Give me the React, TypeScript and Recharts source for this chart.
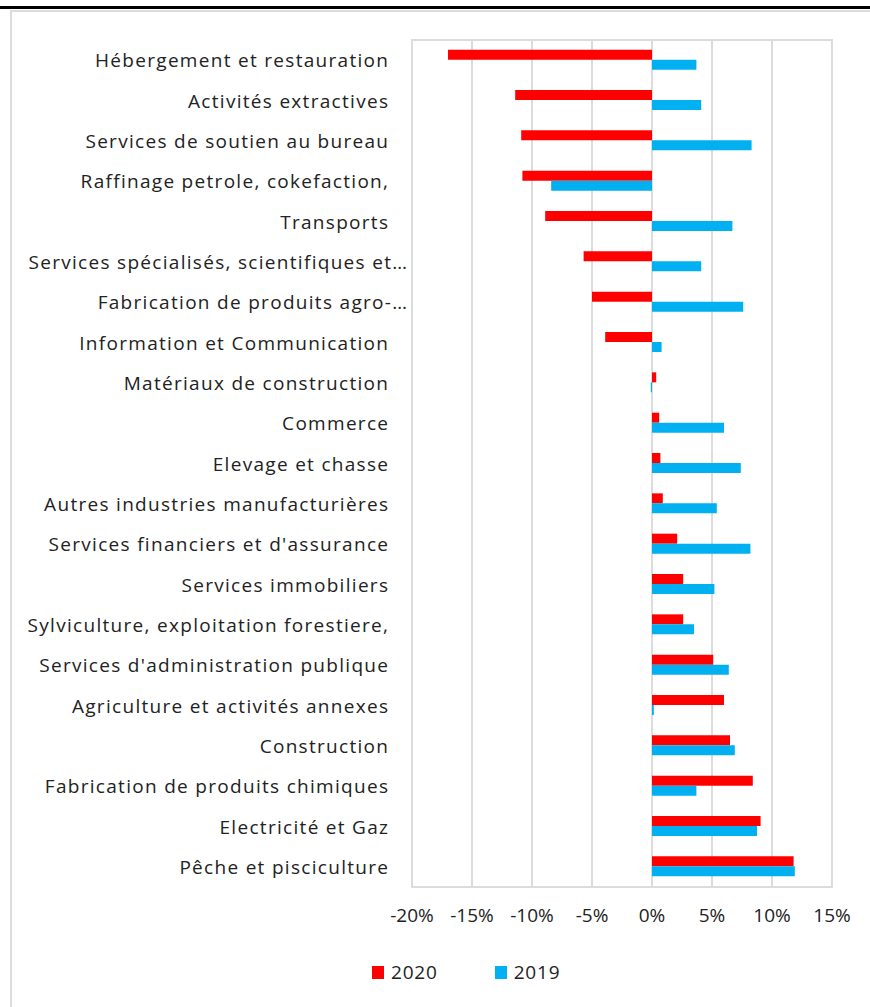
import React from 'react';
import { Bar, BarChart, CartesianGrid, Legend, ReferenceArea, XAxis, YAxis } from 'recharts';

const categories = [
  'Hébergement et restauration',
  'Activités extractives',
  'Services de soutien au bureau',
  'Raffinage petrole, cokefaction,',
  'Transports',
  'Services spécialisés, scientifiques et…',
  'Fabrication de produits agro-…',
  'Information et Communication',
  'Matériaux de construction',
  'Commerce',
  'Elevage et chasse',
  'Autres industries manufacturières',
  'Services financiers et d\'assurance',
  'Services immobiliers',
  'Sylviculture, exploitation forestiere,',
  'Services d\'administration publique',
  'Agriculture et activités annexes',
  'Construction',
  'Fabrication de produits chimiques',
  'Electricité et Gaz',
  'Pêche et pisciculture',
];

const values2020 = [
  -17.0, -11.4, -10.9, -10.8, -8.9, -5.7, -5.0, -3.9, 0.35, 0.6, 0.7,
  0.9, 2.1, 2.6, 2.6, 5.1, 6.0, 6.5, 8.4, 9.05, 11.8,
];

const values2019 = [
  3.7, 4.1, 8.3, -8.4, 6.7, 4.1, 7.6, 0.8, -0.1, 6.0, 7.4,
  5.4, 8.2, 5.2, 3.5, 6.4, 0.15, 6.9, 3.7, 8.75, 11.9,
];

const xTicks = [-20, -15, -10, -5, 0, 5, 10, 15];

const seriesInfo = [
  { key: 'y2020', label: '2020', color: '#FF0000' },
  { key: 'y2019', label: '2019', color: '#00B0F0' },
];

const chartData = categories.map((name, i) => ({
  name,
  y2020: values2020[i],
  y2019: values2019[i],
}));

const FONT = '"Open Sans", Lato, sans-serif';
const TEXT = '#222222';
const GRID = '#dcdcdc';
const LABEL_SPACING = 1.3;

// truncated labels overflow past the normal right edge, like in the source
const CategoryTick = (props: any) => {
  const { x, y, payload } = props;
  const label = String(payload.value);
  const shift = (label.endsWith('…') ? 19 : 0) + LABEL_SPACING;
  return (
    <text
      x={x + shift}
      y={y}
      textAnchor="end"
      dominantBaseline="central"
      fill={TEXT}
      fontSize={19}
      fontFamily={FONT}
      letterSpacing={LABEL_SPACING}
    >
      {label}
    </text>
  );
};

const renderLegend = () => (
  <div style={{ display: 'flex', alignItems: 'center', fontFamily: FONT, fontSize: 19, letterSpacing: 0.8, color: TEXT }}>
    {seriesInfo.map((s, i) => (
      <div key={s.key} style={{ display: 'flex', alignItems: 'center', marginRight: i === 0 ? 57 : 0 }}>
        <span style={{ display: 'inline-block', width: 12, height: 13, background: s.color, marginRight: 7 }} />
        <span>{s.label}</span>
      </div>
    ))}
  </div>
);

const App: React.FC = () => {
  return (
    <div style={{ position: 'absolute', left: 0, top: 0, width: 870, height: 1007, background: '#fff', overflow: 'hidden' }}>
      <div style={{ position: 'absolute', left: 0, top: 6, width: 870, height: 3, background: '#000' }} />
      <div style={{ position: 'absolute', left: 10, top: 10, width: 870, height: 1000, borderLeft: `2px solid ${GRID}`, borderTop: `2px solid ${GRID}` }} />
      <div style={{ position: 'absolute', left: 0, top: 0 }}>
        <BarChart
          width={870}
          height={1007}
          data={chartData}
          layout="vertical"
          margin={{ top: 40, right: 38, bottom: 70, left: 0 }}
          barGap={0}
          barCategoryGap="24%"
        >
          <CartesianGrid horizontal={false} stroke={GRID} strokeWidth={2} />
          <ReferenceArea x1={-20} x2={15} fill="none" stroke={GRID} strokeWidth={2} ifOverflow="visible" />
          <XAxis
            type="number"
            domain={[-20, 15]}
            ticks={xTicks}
            tickFormatter={(v: number) => `${v}%`}
            axisLine={false}
            tickLine={false}
            tickSize={0}
            tickMargin={22}
            height={50}
            interval={0}
            tick={{ fill: TEXT, fontSize: 19, fontFamily: FONT }}
          />
          <YAxis
            type="category"
            dataKey="name"
            width={412}
            axisLine={false}
            tickLine={false}
            tickSize={0}
            tickMargin={24}
            interval={0}
            tick={<CategoryTick />}
          />
          <Legend
            layout="horizontal"
            verticalAlign="middle"
            align="center"
            content={renderLegend}
            wrapperStyle={{ top: 959, left: 372, width: 'auto' }}
          />
          {seriesInfo.map((s) => (
            <Bar key={s.key} dataKey={s.key} name={s.label} fill={s.color} isAnimationActive={false} />
          ))}
        </BarChart>
      </div>
    </div>
  );
};

export default App;
